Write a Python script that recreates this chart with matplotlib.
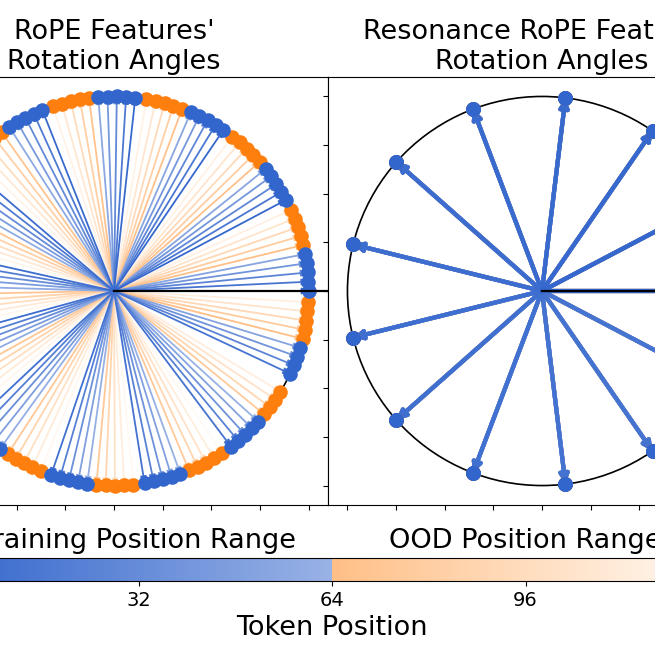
import numpy as np
import matplotlib
matplotlib.use("Agg")
import matplotlib.pyplot as plt
from matplotlib.colors import LinearSegmentedColormap, Normalize
from matplotlib.cm import ScalarMappable
from matplotlib.patches import Circle

# token positions: first 64 are the training range, the rest are OOD
positions = np.arange(128)
train_len = 64
# wavelengths of the feature (RoPE dim i=5 of d=128, and the rounded Resonance one)
rope_wavelength = 12.902
resonance_wavelength = 13.0

blue = "#3366cc"
orange = "#ff7f0e"
cmap_colors = [(0.0, "#3366cc"), (0.5, "#99b2e5"), (0.5, "#ffbf86"), (1.0, "#fffaf5")]
cmap = LinearSegmentedColormap.from_list("pos", cmap_colors)
norm = Normalize(0, 128)

fig = plt.figure(figsize=(6.55, 6.55), dpi=100)
W = 655.0


def px_box(x0, y0, x1, y1):
    # pixel box (top-left origin) -> figure fraction
    return [x0 / W, (W - y1) / W, (x1 - x0) / W, (y1 - y0) / W]


ax1 = fig.add_axes(px_box(-100, 77, 328, 505))
ax2 = fig.add_axes(px_box(328, 77, 756, 505))
cax = fig.add_axes(px_box(-55, 558, 719, 581))


def draw_angles(ax, wavelength, lw, ms, dot_size):
    theta = 2 * np.pi / wavelength
    for p in positions[::-1]:
        a = p * theta
        x, y = np.cos(a), np.sin(a)
        c = cmap(norm(p))
        ax.annotate("", xy=(x, y), xytext=(0, 0),
                    arrowprops=dict(arrowstyle="-|>", color=c, lw=lw,
                                    shrinkA=0, shrinkB=0, mutation_scale=ms),
                    zorder=2)
        ax.scatter([x], [y], s=dot_size, color=blue if p < train_len else orange,
                   zorder=3, linewidths=0)
    ax.add_patch(Circle((0, 0), 1.0, fill=False, color="black", lw=1.2, zorder=1))
    ax.plot([0, 1.1], [0, 0], color="black", lw=1.6, zorder=4)
    ax.set_xlim(-1.1, 1.1)
    ax.set_ylim(-1.1, 1.1)
    ax.set_xticks(np.arange(-1, 1.01, 0.25))
    ax.set_yticks(np.arange(-1, 1.01, 0.25))
    ax.set_xticklabels([])
    ax.set_yticklabels([])


draw_angles(ax1, rope_wavelength, 1.3, 9, 110)
draw_angles(ax2, resonance_wavelength, 3.0, 13, 110)

ax1.set_title("RoPE Features'\nRotation Angles", fontsize=19.5)
ax2.set_title("Resonance RoPE Features'\nRotation Angles", fontsize=19.5)

cb = fig.colorbar(ScalarMappable(norm=norm, cmap=cmap), cax=cax, orientation="horizontal")
cb.set_ticks([0, 32, 64, 96, 128])
cb.ax.tick_params(labelsize=14)
cb.set_label("Token Position", fontsize=19.5)
tr = cax.get_xaxis_transform()
cax.text(32, 1.45, "Training Position Range", transform=tr, ha="center",
         va="baseline", fontsize=19.5)
cax.text(96, 1.45, "OOD Position Range", transform=tr, ha="center",
         va="baseline", fontsize=19.5)

fig.savefig("out.png", dpi=100)
